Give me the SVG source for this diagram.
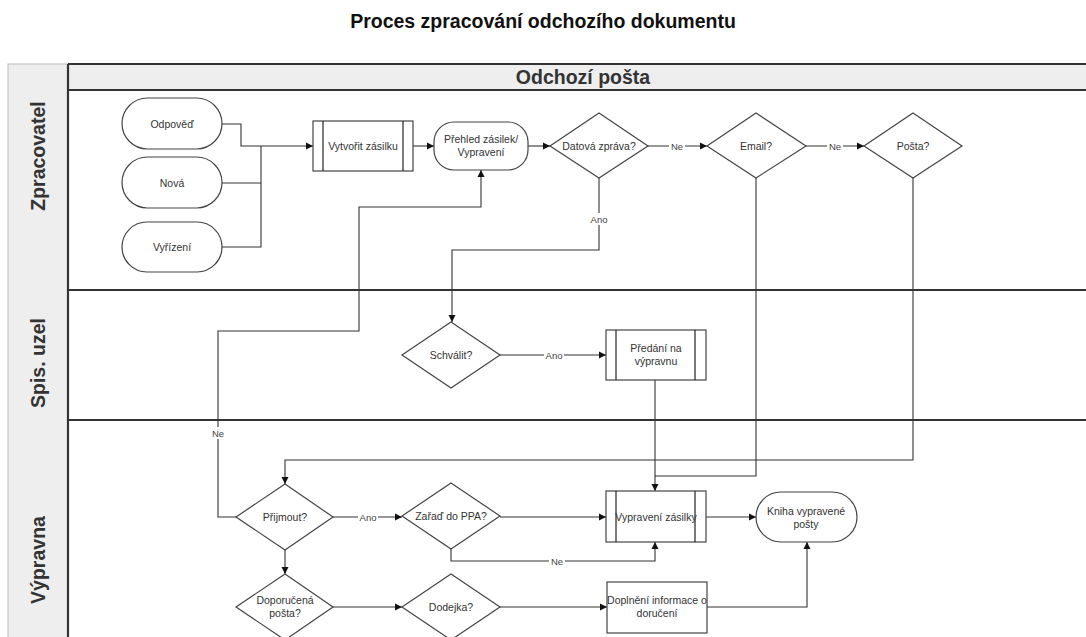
<svg xmlns="http://www.w3.org/2000/svg" width="1086" height="637" viewBox="0 0 1086 637">
<defs>
<marker id="arr" markerWidth="8" markerHeight="8" refX="7" refY="4" orient="auto" markerUnits="userSpaceOnUse">
<path d="M0,0.5 L7,4 L0,7.5 Z" fill="#111"/>
</marker>
<style>
.title{font-family:"Liberation Sans",Arial,sans-serif;font-weight:bold;font-size:19.5px;fill:#111;text-anchor:middle}
.lane{font-family:"Liberation Sans",Arial,sans-serif;font-weight:bold;font-size:19.5px;fill:#333;text-anchor:middle}
.t{font-family:"Liberation Sans",Arial,sans-serif;font-size:10.5px;fill:#333;text-anchor:middle}
.lbl{font-family:"Liberation Sans",Arial,sans-serif;font-size:9.5px;fill:#444;text-anchor:middle}
.shape{fill:#fff;stroke:#444;stroke-width:1.2}
.inner{stroke:#222;stroke-width:1.2;fill:none}
.lanel{stroke:#333;stroke-width:2.2;fill:none}
.c{stroke:#333;stroke-width:1.1;fill:none}
.ca{stroke:#333;stroke-width:1.1;fill:none;marker-end:url(#arr)}
.bg{fill:#fff}
</style>
</defs>
<rect x="0" y="0" width="1086" height="637" fill="#fff"/>
<text class="title" x="543" y="28">Proces zpracování odchozího dokumentu</text>

<g id="pool">
<rect x="8" y="64" width="60" height="580" fill="#eeeeee" stroke="#bbbbbb" stroke-width="1"/>
<rect x="68" y="64" width="1030" height="26" fill="#eeeeee"/>
<line class="lanel" x1="68" y1="64" x2="1086" y2="64"/>
<line class="lanel" x1="68" y1="90" x2="1086" y2="90"/>
<line class="lanel" x1="68" y1="290" x2="1086" y2="290"/>
<line class="lanel" x1="68" y1="420" x2="1086" y2="420"/>
<line class="lanel" x1="68" y1="64" x2="68" y2="637"/>
<text class="lane" x="583" y="84">Odchozí pošta</text>
<text class="lane" transform="translate(45,156) rotate(-90)">Zpracovatel</text>
<text class="lane" transform="translate(45,363) rotate(-90)">Spis. uzel</text>
<text class="lane" transform="translate(45,560) rotate(-90)">Výpravna</text>
</g>

<g id="connectors">
<polyline class="ca" points="222,124 241,124 241,146 313,146"/>
<polyline class="c" points="222,183 261,183"/>
<polyline class="c" points="222,247 261,247 261,146"/>
<line class="ca" x1="413" y1="146" x2="434" y2="146"/>
<line class="ca" x1="528" y1="146" x2="550" y2="146"/>
<line class="ca" x1="648" y1="146" x2="707" y2="146"/>
<line class="ca" x1="806" y1="146" x2="864" y2="146"/>
<polyline class="ca" points="599,178 599,250 452,250 452,322"/>
<line class="ca" x1="500" y1="355" x2="606" y2="355"/>
<line class="ca" x1="655" y1="380" x2="655" y2="491"/>
<polyline class="c" points="756,178 756,476 655,476"/>
<polyline class="ca" points="913,178 913,460 285,460 285,484"/>
<polyline class="ca" points="236,517 218,517 218,331 359,331 359,207 481,207 481,170"/>
<line class="ca" x1="333" y1="517" x2="402" y2="517"/>
<line class="ca" x1="500" y1="517" x2="606" y2="517"/>
<polyline class="ca" points="451,549 451,561 655,561 655,542"/>
<line class="ca" x1="706" y1="517" x2="756" y2="517"/>
<line class="ca" x1="285" y1="550" x2="285" y2="574"/>
<line class="ca" x1="333" y1="607" x2="402" y2="607"/>
<line class="ca" x1="500" y1="607" x2="607" y2="607"/>
<polyline class="ca" points="707,607 807,607 807,542"/>

<rect class="bg" x="669" y="140" width="16" height="12"/>
<text class="lbl" x="677" y="149.5">Ne</text>
<rect class="bg" x="827" y="140" width="16" height="12"/>
<text class="lbl" x="835" y="149.5">Ne</text>
<rect class="bg" x="589" y="213" width="20" height="12"/>
<text class="lbl" x="599" y="222.5">Ano</text>
<rect class="bg" x="544" y="349" width="20" height="12"/>
<text class="lbl" x="554" y="358.5">Ano</text>
<rect class="bg" x="210" y="427" width="16" height="12"/>
<text class="lbl" x="218" y="436.5">Ne</text>
<rect class="bg" x="358" y="511" width="20" height="12"/>
<text class="lbl" x="368" y="520.5">Ano</text>
<rect class="bg" x="549" y="555" width="16" height="12"/>
<text class="lbl" x="557" y="564.5">Ne</text>
</g>

<g id="odpoved">
<rect class="shape" x="122" y="98" width="100" height="51" rx="25.5"/>
<text class="t" x="172" y="127.5">Odpověď</text>
</g>
<g id="nova">
<rect class="shape" x="122" y="157" width="100" height="51" rx="25.5"/>
<text class="t" x="172" y="186.5">Nová</text>
</g>
<g id="vyrizeni">
<rect class="shape" x="122" y="222" width="100" height="50" rx="25"/>
<text class="t" x="172" y="250.5">Vyřízení</text>
</g>
<g id="vytvorit">
<rect class="shape" x="313" y="121" width="100" height="50"/>
<line class="inner" x1="323" y1="121" x2="323" y2="171"/>
<line class="inner" x1="403" y1="121" x2="403" y2="171"/>
<text class="t" x="363" y="149.5">Vytvořit zásilku</text>
</g>
<g id="prehled">
<rect class="shape" x="434" y="122" width="94" height="48" rx="20"/>
<text class="t" x="481" y="143">Přehled zásilek/</text>
<text class="t" x="481" y="156">Vypravení</text>
</g>
<g id="datova">
<polygon class="shape" points="599,113 648,146 599,178 550,146"/>
<text class="t" x="599" y="149.5">Datová zpráva?</text>
</g>
<g id="email">
<polygon class="shape" points="756,113 806,146 756,178 707,146"/>
<text class="t" x="756" y="149.5">Email?</text>
</g>
<g id="posta">
<polygon class="shape" points="913,113 962,146 913,178 864,146"/>
<text class="t" x="913" y="149.5">Pošta?</text>
</g>
<g id="schvalit">
<polygon class="shape" points="451,322 500,355 451,388 402,355"/>
<text class="t" x="451" y="358.5">Schválit?</text>
</g>
<g id="predani">
<rect class="shape" x="606" y="330" width="100" height="50"/>
<line class="inner" x1="616" y1="330" x2="616" y2="380"/>
<line class="inner" x1="695" y1="330" x2="695" y2="380"/>
<text class="t" x="656" y="352">Předání na</text>
<text class="t" x="656" y="365">výpravnu</text>
</g>
<g id="prijmout">
<polygon class="shape" points="285,484 333,517 285,550 236,517"/>
<text class="t" x="285" y="520.5">Přijmout?</text>
</g>
<g id="zarad">
<polygon class="shape" points="451,483 500,516 451,549 402,516"/>
<text class="t" x="451" y="520">Zařaď do PPA?</text>
</g>
<g id="vypraveni">
<rect class="shape" x="606" y="491" width="100" height="51"/>
<line class="inner" x1="616" y1="491" x2="616" y2="542"/>
<line class="inner" x1="695" y1="491" x2="695" y2="542"/>
<text class="t" x="656" y="520.5">Vypravení zásilky</text>
</g>
<g id="kniha">
<rect class="shape" x="756" y="492" width="101" height="50" rx="25"/>
<text class="t" x="806" y="515">Kniha vypravené</text>
<text class="t" x="806" y="528">pošty</text>
</g>
<g id="doporucena">
<polygon class="shape" points="285,574 333,607 285,640 236,607"/>
<text class="t" x="285" y="604">Doporučená</text>
<text class="t" x="285" y="617">pošta?</text>
</g>
<g id="dodejka">
<polygon class="shape" points="451,574 500,607 451,640 402,607"/>
<text class="t" x="451" y="610.5">Dodejka?</text>
</g>
<g id="doplneni">
<rect class="shape" x="607" y="582" width="100" height="51"/>
<text class="t" x="657" y="604">Doplnění informace o</text>
<text class="t" x="657" y="617">doručení</text>
</g>
</svg>
